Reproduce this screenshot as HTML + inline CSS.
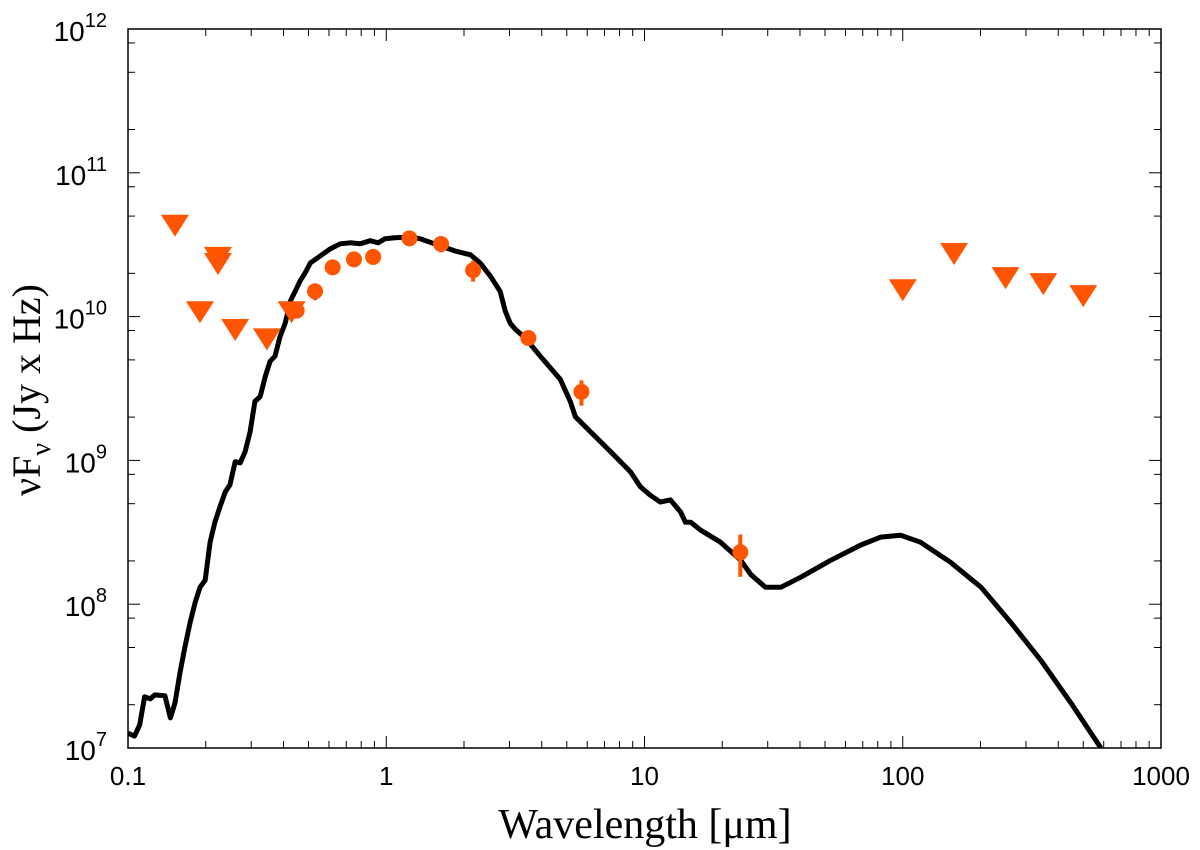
<!DOCTYPE html>
<html><head><meta charset="utf-8"><style>
html,body{margin:0;padding:0;background:#fff;}
svg{display:block;}
</style></head><body>
<svg id="chart" width="1200" height="850" xmlns="http://www.w3.org/2000/svg">
<g id="axes"></g>
<g id="plot"></g>
<text x="40" y="390" transform="rotate(-90 40 390)" text-anchor="middle" font-family="Liberation Serif, serif" font-size="40">νF<tspan font-size="28" dy="10">ν</tspan><tspan dy="-10"> (Jy x Hz)</tspan></text>
<text x="645" y="838" text-anchor="middle" font-family="Liberation Serif, serif" font-size="42">Wavelength  [μm]</text>
</svg>
<script>
const modelWave = [0.1,0.106,0.111,0.116,0.122,0.127,0.139,0.146,0.152,0.159,0.166,0.174,0.182,0.190,0.199,0.208,0.217,0.227,0.238,0.248,0.260,0.272,0.284,0.297,0.310,0.325,0.340,0.355,0.371,0.388,0.406,0.425,0.444,0.464,0.485,0.508,0.555,0.607,0.664,0.725,0.793,0.867,0.93,0.99,1.08,1.24,1.35,1.62,1.85,2.12,2.31,2.53,2.76,2.89,3.02,3.16,3.46,3.95,4.72,5.16,5.40,6.18,7.39,8.83,9.65,10.5,11.5,12.6,13.8,14.4,15.1,16.5,19.7,23.6,25.8,29.4,33.7,40.3,52.6,68.8,82.2,98,117,153,201,262,343,448,585];
const modelFlux = [1.27e7,1.21e7,1.45e7,2.27e7,2.20e7,2.34e7,2.31e7,1.62e7,2.06e7,3.34e7,4.99e7,7.46e7,1.03e8,1.31e8,1.47e8,2.70e8,3.72e8,4.74e8,6.04e8,6.76e8,9.79e8,9.6e8,1.15e9,1.58e9,2.57e9,2.78e9,3.84e9,4.89e9,5.30e9,7.30e9,9.0e9,1.28e10,1.50e10,1.77e10,2.01e10,2.36e10,
2.64e10,2.96e10,3.21e10,3.26e10,3.21e10,3.37e10,3.26e10,3.48e10,3.53e10,3.58e10,3.48e10,3.10e10,2.86e10,2.69e10,2.36e10,1.91e10,1.50e10,1.09e10,9.0e9,8.17e9,7.06e9,5.30e9,3.66e9,2.57e9,2.01e9,1.58e9,1.15e9,8.32e8,6.54e8,5.75e8,5.14e8,5.31e8,4.38e8,3.72e8,3.72e8,3.27e8,2.70e8,2.02e8,1.61e8,1.31e8,1.31e8,1.54e8,2.02e8,2.58e8,2.93e8,3.02e8,2.70e8,1.96e8,1.31e8,7.46e7,4.06e7,2.06e7,1.0e7];
const detWave = [0.45,0.53,0.62,0.75,0.89,1.23,1.63,2.17,3.55,5.7,23.5];
const detFlux = [1.1e10,1.5e10,2.2e10,2.5e10,2.6e10,3.5e10,3.2e10,2.1e10,7.1e9,3.0e9,2.3e8];
const detErr = [0.1e10,0.2e10,0.1e10,0.1e10,0.1e10,0.1e10,0.4e10,0.35e10,0.3e9,0.6e9,0.75e8];
const limWave = [0.152,0.19,0.223,0.223,0.26,0.345,0.43,100,158,250,350,500];
const limFlux = [4.35e10,1.09e10,2.60e10,2.36e10,8.2e9,7.06e9,1.09e10,1.55e10,2.77e10,1.88e10,1.71e10,1.41e10];
const xTickVals = [0.1,1,10,100,1000];
const xTickLabels = ["0.1","1","10","100","1000"];
const yTickExp = [7,8,9,10,11,12];

const L=128,R=1161,T=29,B=748;
const xMin=-1,xMax=3,yMin=7,yMax=12;
const NS="http://www.w3.org/2000/svg";
function X(v){return L+(Math.log10(v)-xMin)/(xMax-xMin)*(R-L);}
function Y(v){return B-(Math.log10(v)-yMin)/(yMax-yMin)*(B-T);}
function mk(tag,attrs,parent){const e=document.createElementNS(NS,tag);for(const k in attrs)e.setAttribute(k,attrs[k]);parent.appendChild(e);return e;}
const axes=document.getElementById('axes'),plot=document.getElementById('plot');
const frame=mk('rect',{x:L,y:T,width:R-L,height:B-T,fill:'none',stroke:'#000','stroke-width':1.5},axes);


for(let d=-1;d<3;d++){for(let m=1;m<=9;m++){const v=m*Math.pow(10,d);const x=X(v);const len=m===1?12:7;
 mk('line',{x1:x,y1:B,x2:x,y2:B-len,stroke:'#000','stroke-width':1},axes);
 mk('line',{x1:x,y1:T,x2:x,y2:T+len,stroke:'#000','stroke-width':1},axes);}}
xTickVals.forEach((v,i)=>{const t=mk('text',{x:X(v),y:785,'text-anchor':'middle','font-family':'Liberation Sans, sans-serif','font-size':26},axes);t.textContent=xTickLabels[i];
 
 });
for(let e=7;e<12;e++){[1,2,5,8].forEach(m=>{const y=Y(m*Math.pow(10,e));const len=m===1?12:7;
 mk('line',{x1:L,y1:y,x2:L+len,y2:y,stroke:'#000','stroke-width':1},axes);
 mk('line',{x1:R,y1:y,x2:R-len,y2:y,stroke:'#000','stroke-width':1},axes);});}
yTickExp.forEach(e=>{const t=mk('text',{x:107,y:Y(Math.pow(10,e))+12,'text-anchor':'end','font-family':'Liberation Sans, sans-serif','font-size':28},axes);
 t.textContent='10';const s=mk('tspan',{dy:-14,'font-size':20},t);s.textContent=String(e);
 
 });
const d=modelWave.map((w,i)=>(i?'L':'M')+X(w).toFixed(1)+','+Y(modelFlux[i]).toFixed(1)).join('');
const clip=mk('clipPath',{id:'clipr'},plot);mk('rect',{x:L,y:T,width:R-L,height:B-T},clip);
const path=mk('path',{d:d,fill:'none',stroke:'#000','stroke-width':5,'stroke-linejoin':'round','clip-path':'url(#clipr)'},plot);


limWave.forEach((w,i)=>{const x=X(w),y=Y(limFlux[i]);
 const p=mk('polygon',{points:`${x-14},${y-10} ${x+14},${y-10} ${x},${y+12}`,fill:'#ff5500'},plot);
 
 });
detWave.forEach((w,i)=>{const x=X(w),y=Y(detFlux[i]);
 const eb=mk('line',{x1:x,y1:Y(detFlux[i]+detErr[i]),x2:x,y2:Y(detFlux[i]-detErr[i]),stroke:'#ff5500','stroke-width':4},plot);
 
 
 const c=mk('circle',{cx:x,cy:y,r:8,fill:'#ff5500'},plot);
 
 });
</script>
</body></html>
